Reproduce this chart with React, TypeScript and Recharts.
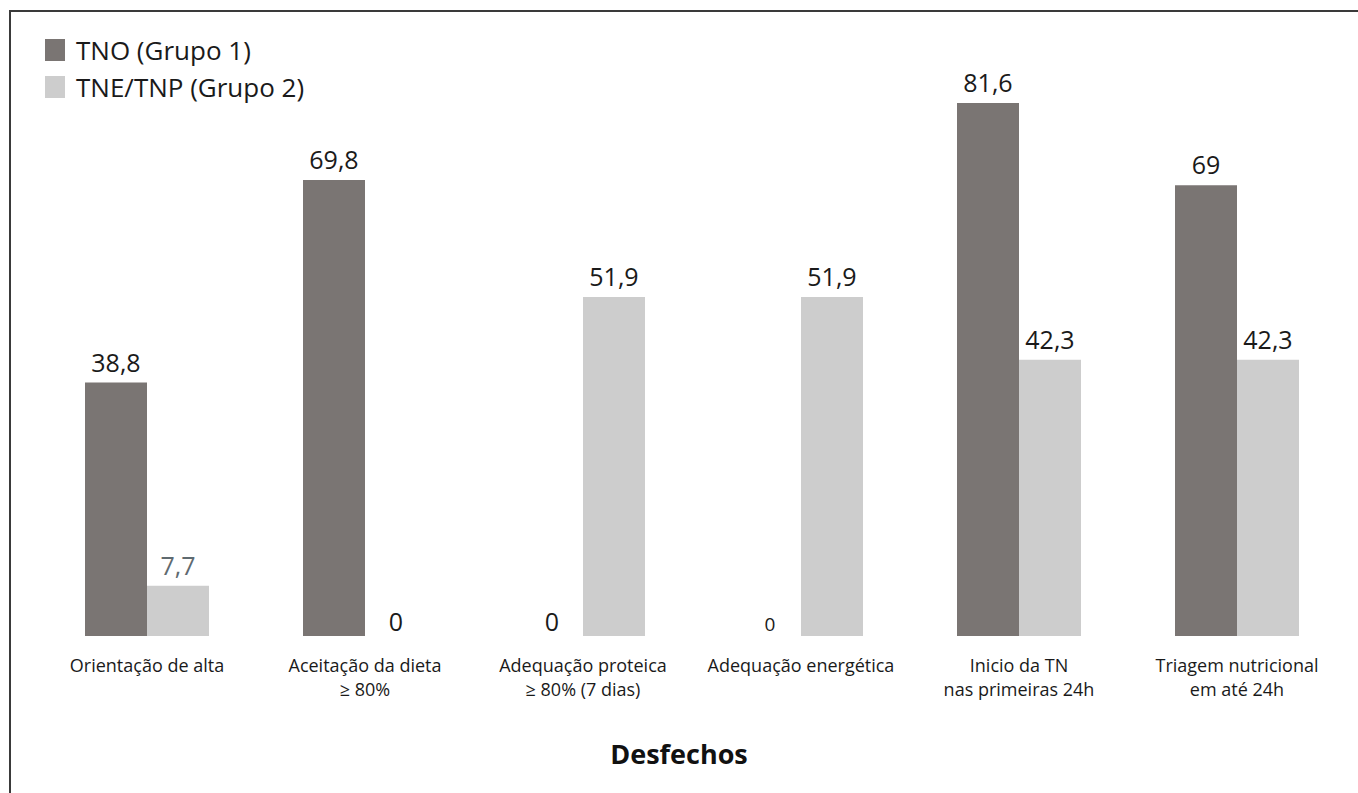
import { Bar, BarChart, Cell, LabelList, Legend, XAxis, YAxis, Label } from 'recharts';

const categories = [
  'Orientação de alta',
  'Aceitação da dieta\n≥ 80%',
  'Adequação proteica\n≥ 80% (7 dias)',
  'Adequação energética',
  'Inicio da TN\nnas primeiras 24h',
  'Triagem nutricional\nem até 24h',
];
const grupo1 = [38.8, 69.8, 0, 0, 81.6, 69];
const grupo2 = [7.7, 0, 51.9, 51.9, 42.3, 42.3];
const seriesNames = ['TNO (Grupo 1)', 'TNE/TNP (Grupo 2)'];

const DARK = '#7a7573';
const LIGHT = '#cdcdcd';
const FONT = '"Open Sans", "DejaVu Sans", sans-serif';

const data = categories.map((c, i) => ({ name: c, g1: grupo1[i], g2: grupo2[i] }));

const fmt = (v: number) => String(v).replace('.', ',');

function CategoryTick({ x, y, payload }: any) {
  const lines = String(payload.value).split('\n');
  return (
    <text x={x} y={y} textAnchor="middle" fill="#1a1a1a" fontSize={18} fontFamily={FONT}>
      {lines.map((l, i) => (
        <tspan key={i} x={x} dy={i === 0 ? 36 : 24}>{l}</tspan>
      ))}
    </text>
  );
}

function makeValueLabel(series: 'g1' | 'g2') {
  return (props: any) => {
    const vb = props.viewBox || props;
    const x = vb.x + vb.width / 2;
    const v = Number(props.value);
    const zero = v === 0;
    const small = zero && series === 'g1' && props.index === 3;
    const faded = series === 'g2' && props.index === 0;
    return (
      <text
        x={x}
        y={vb.y + (zero ? vb.height : 0) - (zero ? 5 : 11)}
        textAnchor="middle"
        fill={faded ? '#5f6a70' : '#1a1a1a'}
        fontSize={small ? 19 : 25}
        fontFamily={FONT}
      >
        {fmt(v)}
      </text>
    );
  };
}

function LegendBox() {
  const colors = [DARK, LIGHT];
  return (
    <div style={{ fontFamily: FONT }}>
      {seriesNames.map((n, i) => (
        <div key={n} style={{ display: 'flex', alignItems: 'center', height: 37 }}>
          <span style={{ display: 'inline-block', width: 20, height: 22, background: colors[i], marginRight: 11 }} />
          <span style={{ fontSize: 26, color: '#1a1a1a' }}>{n}</span>
        </div>
      ))}
    </div>
  );
}

export default function App() {
  return (
    <div style={{ position: 'fixed', left: 0, top: 0, width: 1358, height: 793, background: '#fff', overflow: 'hidden' }}>
      <div
        style={{
          position: 'absolute',
          left: 9,
          top: 10,
          width: 1400,
          height: 800,
          borderTop: '2px solid #3a3a3a',
          borderLeft: '2px solid #3a3a3a',
          boxSizing: 'border-box',
        }}
      />
      <div style={{ position: 'absolute', left: 0, top: 0 }}>
        <BarChart
          width={1358}
          height={793}
          data={data}
          margin={{ top: 48, right: 12, left: 38, bottom: 0 }}
          barGap={0}
          barSize={62}
        >
          <XAxis
            dataKey="name"
            axisLine={false}
            tickLine={false}
            tickSize={0}
            tickMargin={0}
            height={157}
            interval={0}
            tick={<CategoryTick />}
          >
            <Label
              value="Desfechos"
              position="insideBottom"
              offset={29}
              dx={-13}
              style={{ fontSize: 27, fontWeight: 700, fill: '#111', fontFamily: FONT }}
            />
          </XAxis>
          <YAxis hide domain={[0, 90]} />
          <Legend
            layout="vertical"
            align="center"
            verticalAlign="middle"
            content={<LegendBox />}
            wrapperStyle={{ left: 45, top: 31, width: 340, height: 80 }}
          />
          <Bar dataKey="g1" name={seriesNames[0]} fill={DARK} minPointSize={1} isAnimationActive={false}>
            {grupo1.map((v, i) => (
              <Cell key={i} fill={v === 0 ? 'transparent' : DARK} />
            ))}
            <LabelList dataKey="g1" content={makeValueLabel('g1')} />
          </Bar>
          <Bar dataKey="g2" name={seriesNames[1]} fill={LIGHT} minPointSize={1} isAnimationActive={false}>
            {grupo2.map((v, i) => (
              <Cell key={i} fill={v === 0 ? 'transparent' : LIGHT} />
            ))}
            <LabelList dataKey="g2" content={makeValueLabel('g2')} />
          </Bar>
        </BarChart>
      </div>
    </div>
  );
}
